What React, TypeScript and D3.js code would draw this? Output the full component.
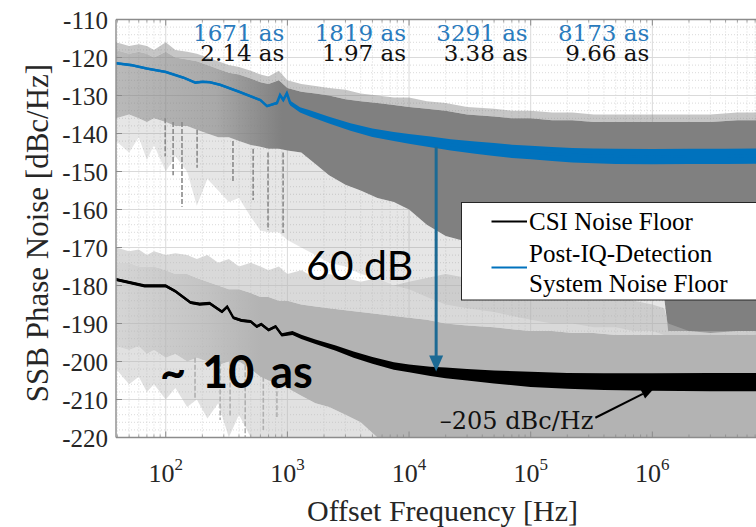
import React from 'react';
import * as d3 from 'd3';

const W = 756;
const H = 527;

// ---- axes ----
const xDomain = [39, 1e7];
const yDomain = [-220, -110];
const xTickExps = [2, 3, 4, 5, 6];
const yTickValues = [-110, -120, -130, -140, -150, -160, -170, -180, -190, -200, -210, -220];

// ---- raw traces envelopes ----
const bandF = [39, 50, 60, 70, 80, 100, 120, 150, 180, 220, 270, 330, 400, 500, 600, 700, 850, 1000, 1300, 1700, 2200, 3000, 4000, 5500, 7500, 1e4, 1.4e4, 2e4, 3e4, 5e4, 7e4, 1e5, 1.5e5, 2.2e5, 3.3e5, 5e5, 7e5, 1e6, 1.25e6, 1.35e6, 2e6, 3e6, 5e6, 1e7];

const sysTopPeak = [-116, -117, -116.5, -117, -118, -116, -118, -118.5, -119, -120, -121, -122, -122.5, -123.5, -124.5, -125, -123.5, -126, -127, -127.5, -128, -128.5, -129.5, -130, -130.5, -130.5, -131.5, -132, -133, -133.5, -134, -134, -134.5, -134.5, -135, -135, -135, -135, -135, -135, -135, -135, -134.5, -134.5];
const sysTopCore = [-118, -119, -118.5, -119, -120, -118.5, -120, -120.5, -121, -122, -123, -124, -124.5, -125.5, -126.5, -127, -126, -128, -129, -129.5, -130, -131, -131.5, -132, -132.5, -133, -133.5, -134, -135, -135.5, -136, -136, -136.5, -136.5, -137, -137, -137, -137, -137, -137, -137, -137, -136.5, -136.5];
const sysBotCore = [-136, -135, -136, -137, -136, -137, -138, -138, -139, -140, -141, -141, -142, -143, -143.5, -144, -144, -144.5, -145, -148, -151, -153.5, -155, -157, -158, -160, -164, -167, -168.5, -170, -173, -175, -177, -178, -180, -181, -182, -182, -183, -192, -192, -192.5, -192, -192];
const sysBotPeak = [-142, -145, -141, -147, -143, -150, -146, -150, -159, -152, -155, -158, -157, -162, -165.5, -166, -166, -168, -170, -172, -174, -175, -177, -178, -180, -181, -183, -185, -186, -187, -188, -189, -190, -190, -191, -191, -192, -192, -193, -194, -194, -194, -194, -194];

const csiTopPeak = [-170, -171, -170.5, -172, -171, -172, -171.5, -172, -173, -172, -174, -173, -175, -174, -175, -176, -175, -177, -176, -178, -177, -178, -179, -178, -180, -179, -178, -177, -178, -179, -180, -181, -181, -182, -182, -183, -184, -185, -186, -190, -192, -192, -192, -192];
const csiTopCore = [-174, -174, -175, -175, -175, -176, -177, -177, -178, -179, -180, -181, -181, -182, -183, -183, -184, -184, -185, -185.5, -186, -186.5, -187, -187.5, -188, -188.5, -189, -190, -190.5, -191, -191.5, -192, -192, -192.5, -192.5, -193, -193, -193, -193, -193, -193, -193, -193, -193];
const csiBotCore = [-196, -197, -196, -198, -197, -199, -198, -200, -199, -200, -201, -200, -200, -202, -204, -205, -206, -207, -209, -211, -212, -214, -216, -220, -220, -220, -220, -220, -220, -220, -220, -220, -220, -220, -220, -220, -220, -220, -220, -220, -220, -220, -220, -220];
const csiBotPeak = [-202, -206, -204, -208, -206, -210, -207, -212, -210, -215, -211, -220, -214, -220, -220, -220, -220, -220, -220, -220, -220, -220, -220, -220, -220, -220, -220, -220, -220, -220, -220, -220, -220, -220, -220, -220, -220, -220, -220, -220, -220, -220, -220, -220];

// prominent isolated dashed spikes: frequency, from dB, to dB
const sysSpikeF = [99, 115, 136, 181, 357, 523, 693, 922];
const sysSpikeFrom = [-136, -137, -137, -139, -142, -144, -145, -145];
const sysSpikeTo = [-146, -151, -159.3, -149, -153, -157.5, -165.4, -166.2];
const csiSpikeF = [174, 280, 338, 450, 634, 820];
const csiSpikeFrom = [-199, -200, -200, -201, -204, -206];
const csiSpikeTo = [-210.1, -215.4, -214.5, -220, -218, -214.6];

// ---- averaged noise floors ----
const sysFloorF = [39, 52, 70, 100, 140, 175, 200, 230, 280, 400, 600, 680, 780, 820, 870, 925, 990, 1055, 1270, 1530, 2200, 3300, 5000, 7500, 1e4, 1.5e4, 2.2e4, 3.5e4, 5e4, 7e4, 1e5, 1.5e5, 2.2e5, 3.3e5, 5e5, 1e6, 2e6, 4e6, 1e7];
const sysFloorDb = [-121.5, -122, -122.9, -123.8, -125.3, -126.6, -126.4, -126.5, -127.2, -129, -131.2, -132.8, -132.2, -132, -129.9, -131.2, -129.4, -132, -133.8, -134.7, -136.5, -138.3, -139.8, -140.8, -141.4, -142.2, -143, -143.7, -144.2, -144.7, -145, -145.4, -145.7, -145.9, -146, -146.1, -146, -146, -145.9];
const sysFloorSpread = [0.3, 0.3, 0.3, 0.3, 0.3, 0.3, 0.3, 0.3, 0.3, 0.3, 0.3, 0.3, 0.3, 0.4, 0.4, 0.5, 0.5, 0.6, 0.7, 0.8, 0.9, 1.0, 1.1, 1.2, 1.3, 1.4, 1.5, 1.6, 1.7, 1.75, 1.8, 1.85, 1.9, 1.95, 2.0, 2.0, 2.0, 2.0, 2.0];

const csiFloorF = [39, 67, 100, 120, 160, 190, 230, 290, 320, 360, 420, 500, 560, 610, 700, 800, 900, 1100, 1300, 1700, 2500, 3500, 5000, 7500, 1e4, 1.5e4, 2e4, 3e4, 5e4, 1e5, 2e5, 4e5, 1e6, 3e6, 1e7];
const csiFloorDb = [-178.4, -180.1, -180.1, -181.5, -184.5, -184.9, -184.7, -186.9, -185.6, -188.5, -189.2, -189.5, -190.8, -190.2, -191.7, -190.8, -193, -192.5, -193.5, -194.8, -196.5, -198.2, -199.7, -201.2, -201.8, -202.6, -203, -203.5, -204.1, -204.7, -205.1, -205.3, -205.4, -205.4, -205.4];
const csiFloorSpread = [0.4, 0.4, 0.4, 0.4, 0.4, 0.4, 0.4, 0.4, 0.4, 0.4, 0.4, 0.4, 0.4, 0.4, 0.4, 0.4, 0.45, 0.5, 0.55, 0.6, 0.7, 0.8, 0.9, 1.0, 1.0, 1.2, 1.4, 1.5, 1.7, 2.0, 2.1, 2.2, 2.3, 2.4, 2.4];

// ---- annotations ----
const rmsDecades = [1e3, 1e4, 1e5, 1e6];
const rmsSystem = ['1671 as', '1819 as', '3291 as', '8173 as'];
const rmsCsi = ['2.14 as', '1.97 as', '3.38 as', '9.66 as'];
const arrowF = 1.67e4;
const arrowTopDb = -143.5;
const arrowBottomDb = -202.6;
const floorLabelTail = [3.4e5, -214.8];
const floorLabelTip = [1.04e6, -207];

const legendItems = [
  { lines: ['CSI Noise Floor'], color: '#000000' },
  { lines: ['Post-IQ-Detection', 'System Noise Floor'], color: '#0072BD' },
];

const serif = "'Liberation Serif', 'Times New Roman', serif";
const annFont = "'DejaVu Serif', serif";

export default function App() {
  const x = d3.scaleLog().domain(xDomain).range([116, 774]);
  const y = d3.scaleLinear().domain(yDomain).range([437.5, 19.5]);
  const [x0, x1] = x.range();
  const [yb, yt] = y.range();

  const band = (lo: number[], hi: number[]) =>
    d3
      .area<number>()
      .x((i) => x(bandF[i]))
      .y0((i) => y(lo[i]))
      .y1((i) => y(hi[i]))(bandF.map((_, i) => i)) as string;

  const floorArea = (f: number[], v: number[], s: number[]) =>
    d3
      .area<number>()
      .x((i) => x(f[i]))
      .y0((i) => y(v[i] - s[i]))
      .y1((i) => y(v[i] + s[i]))(f.map((_, i) => i)) as string;

  const floorLine = (f: number[], v: number[]) =>
    d3
      .line<number>()
      .x((i) => x(f[i]))
      .y((i) => y(v[i]))(f.map((_, i) => i)) as string;

  // grid positions
  const minorX: number[] = [];
  for (let k = 1; k <= 6; k++) {
    for (let m = 2; m <= 9; m++) {
      const f = m * Math.pow(10, k);
      if (f > xDomain[0] && f < xDomain[1]) minorX.push(f);
    }
  }
  const majorX = xTickExps.map((e) => Math.pow(10, e));
  const minorY = d3.range(-218, -110, 2).filter((v) => v % 10 !== 0);

  const ax = x(arrowF);
  const ayTop = y(arrowTopDb);
  const ayTip = y(arrowBottomDb);

  const tX = x(floorLabelTail[0]);
  const tY = y(floorLabelTail[1]);
  const pX = x(floorLabelTip[0]);
  const pY = y(floorLabelTip[1]);
  const ang = Math.atan2(pY - tY, pX - tX);
  const hl = 13;
  const hw = 5;
  const bx = pX - hl * Math.cos(ang);
  const by = pY - hl * Math.sin(ang);

  return (
    <svg
      width={W}
      height={H}
      style={{ position: 'absolute', left: 0, top: 0, background: '#ffffff' }}
    >
      <defs>
        <clipPath id="plot">
          <rect x={x0} y={yt} width={x1 - x0} height={yb - yt} />
        </clipPath>
        <linearGradient id="sysGrad" gradientUnits="userSpaceOnUse" x1={x0} x2={x(900)} y1={0} y2={0}>
          <stop offset="0" stopColor="#808080" stopOpacity={0.55} />
          <stop offset="0.6" stopColor="#808080" stopOpacity={0.68} />
          <stop offset="1" stopColor="#808080" stopOpacity={1} />
        </linearGradient>
        <linearGradient id="csiGrad" gradientUnits="userSpaceOnUse" x1={x0} x2={x(600)} y1={0} y2={0}>
          <stop offset="0" stopColor="#b3b3b3" stopOpacity={0.55} />
          <stop offset="0.6" stopColor="#b3b3b3" stopOpacity={0.78} />
          <stop offset="1" stopColor="#b3b3b3" stopOpacity={1} />
        </linearGradient>
      </defs>
      <rect x={0} y={0} width={W} height={H} fill="#ffffff" />

      {/* grid */}
      <g clipPath="url(#plot)">
        {minorX.map((f) => (
          <line key={'mx' + f} x1={x(f)} x2={x(f)} y1={yt} y2={yb} stroke="#cfcfcf" strokeWidth={0.8} strokeDasharray="1,2" />
        ))}
        {minorY.map((v) => (
          <line key={'my' + v} x1={x0} x2={x1} y1={y(v)} y2={y(v)} stroke="#cfcfcf" strokeWidth={0.8} strokeDasharray="1,2" />
        ))}
        {majorX.map((f) => (
          <line key={'gx' + f} x1={x(f)} x2={x(f)} y1={yt} y2={yb} stroke="#dadada" strokeWidth={1} />
        ))}
        {yTickValues.map((v) => (
          <line key={'gy' + v} x1={x0} x2={x1} y1={y(v)} y2={y(v)} stroke="#dadada" strokeWidth={1} />
        ))}
      </g>

      {/* raw traces */}
      <g clipPath="url(#plot)">
        <path d={band(sysTopCore, sysTopPeak)} fill="#808080" opacity={0.45} />
        <path d={band(sysBotPeak, sysBotCore)} fill="#808080" opacity={0.2} />
        <path d={band(sysBotCore, sysTopCore)} fill="url(#sysGrad)" />
        {sysSpikeF.map((f, i) => (
          <line key={'ss' + i} x1={x(f)} x2={x(f)} y1={y(sysSpikeFrom[i])} y2={y(sysSpikeTo[i])} stroke="#8a8a8a" strokeWidth={1.6} strokeDasharray="5,2" />
        ))}
        <path d={band(csiTopCore, csiTopPeak)} fill="#b3b3b3" opacity={0.5} />
        <path d={band(csiBotPeak, csiBotCore)} fill="#b3b3b3" opacity={0.4} />
        <path d={band(csiBotCore, csiTopCore)} fill="url(#csiGrad)" />
        {csiSpikeF.map((f, i) => (
          <line key={'cs' + i} x1={x(f)} x2={x(f)} y1={y(csiSpikeFrom[i])} y2={y(csiSpikeTo[i])} stroke="#b0b0b0" strokeWidth={1.6} strokeDasharray="5,2" />
        ))}

        {/* noise floors */}
        <path d={floorArea(sysFloorF, sysFloorDb, sysFloorSpread)} fill="#0072BD" />
        <path d={floorLine(sysFloorF, sysFloorDb)} fill="none" stroke="#0072BD" strokeWidth={2.6} />
        <path d={floorArea(csiFloorF, csiFloorDb, csiFloorSpread)} fill="#000000" />
        <path d={floorLine(csiFloorF, csiFloorDb)} fill="none" stroke="#000000" strokeWidth={2.4} />
      </g>

      {/* axes box */}
      <line x1={x0} x2={x1} y1={yt} y2={yt} stroke="#8c8c8c" strokeWidth={1.4} />
      <line x1={x0} x2={x1} y1={yb} y2={yb} stroke="#8c8c8c" strokeWidth={1.4} />
      <line x1={x0} x2={x0} y1={yt} y2={yb} stroke="#8c8c8c" strokeWidth={1.4} />
      {majorX.map((f) => (
        <g key={'tx' + f}>
          <line x1={x(f)} x2={x(f)} y1={yb} y2={yb - 6} stroke="#8c8c8c" strokeWidth={1} />
          <line x1={x(f)} x2={x(f)} y1={yt} y2={yt + 6} stroke="#8c8c8c" strokeWidth={1} />
        </g>
      ))}
      {minorX.map((f) => (
        <g key={'tmx' + f}>
          <line x1={x(f)} x2={x(f)} y1={yb} y2={yb - 3} stroke="#8c8c8c" strokeWidth={0.8} />
          <line x1={x(f)} x2={x(f)} y1={yt} y2={yt + 3} stroke="#8c8c8c" strokeWidth={0.8} />
        </g>
      ))}
      {yTickValues.map((v) => (
        <line key={'ty' + v} x1={x0} x2={x0 + 6} y1={y(v)} y2={y(v)} stroke="#8c8c8c" strokeWidth={1} />
      ))}

      {/* tick labels */}
      {yTickValues.map((v) => (
        <text key={'yl' + v} x={108} y={y(v) + 9} textAnchor="end" fontFamily={serif} fontSize={25} fill="#262626">
          {String(v)}
        </text>
      ))}
      {xTickExps.map((e) => (
        <text key={'xl' + e} x={x(Math.pow(10, e))} y={482} textAnchor="middle" fontFamily={serif} fontSize={26} fill="#262626">
          10
          <tspan dy={-12} fontSize={17}>
            {String(e)}
          </tspan>
        </text>
      ))}
      <text x={442.5} y={521} textAnchor="middle" fontFamily={serif} fontSize={30} fill="#262626">
        Offset Frequency [Hz]
      </text>
      <text
        transform={`translate(48,233) rotate(-90)`}
        textAnchor="middle"
        fontFamily={serif}
        fontSize={31}
        fill="#262626"
      >
        SSB Phase Noise [dBc/Hz]
      </text>

      {/* rms jitter annotations */}
      {rmsDecades.map((f, i) => (
        <g key={'rms' + i}>
          <text x={x(f) - 3} y={41} textAnchor="end" fontFamily={annFont} fontSize={23} fill="#2a7bbd">
            {rmsSystem[i]}
          </text>
          <text x={x(f) - 3} y={61} textAnchor="end" fontFamily={annFont} fontSize={23} fill="#111111">
            {rmsCsi[i]}
          </text>
        </g>
      ))}

      {/* 60 dB arrow */}
      <line x1={ax} x2={ax} y1={ayTop} y2={ayTip - 14} stroke="#1c6a94" strokeWidth={3} />
      <path d={`M${ax - 7},${ayTip - 16} L${ax + 7},${ayTip - 16} L${ax},${ayTip} Z`} fill="#1c6a94" />
      <text x={306} y={280} fontFamily="Lato, 'Open Sans', sans-serif" fontSize={41} fill="#000000">
        60 dB
      </text>
      <text x={160} y={388} fontFamily="Lato, 'Open Sans', sans-serif" fontWeight="bold" fontSize={45} wordSpacing={5} fill="#000000">
        ~ 10 as
      </text>

      {/* -205 label arrow */}
      <line x1={tX} y1={tY} x2={bx} y2={by} stroke="#000000" strokeWidth={2} />
      <path
        d={`M${pX},${pY} L${bx - hw * Math.sin(ang)},${by + hw * Math.cos(ang)} L${bx + hw * Math.sin(ang)},${by - hw * Math.cos(ang)} Z`}
        fill="#000000"
      />
      <text x={tX - 2} y={429} textAnchor="end" fontFamily={annFont} fontSize={24} fill="#111111">
        –205 dBc/Hz
      </text>

      {/* legend */}
      <rect x={461.5} y={202.5} width={340} height={97.5} fill="#ffffff" stroke="#262626" strokeWidth={1} />
      <line x1={491.5} x2={527} y1={221.5} y2={221.5} stroke={legendItems[0].color} strokeWidth={2} />
      <text x={529} y={229.5} fontFamily={serif} fontSize={25} fill="#000000">
        {legendItems[0].lines[0]}
      </text>
      <line x1={491.5} x2={527} y1={267.5} y2={267.5} stroke={legendItems[1].color} strokeWidth={2} />
      <text x={529} y={261.5} fontFamily={serif} fontSize={25} fill="#000000">
        {legendItems[1].lines[0]}
      </text>
      <text x={529} y={291.5} fontFamily={serif} fontSize={25} fill="#000000">
        {legendItems[1].lines[1]}
      </text>
    </svg>
  );
}
